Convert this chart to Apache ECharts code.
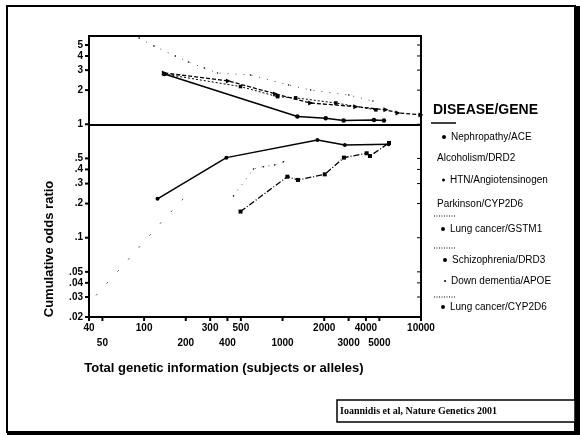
<!DOCTYPE html>
<html><head><meta charset="utf-8">
<script src="https://cdn.jsdelivr.net/npm/echarts@6/dist/echarts.min.js"></script>
<style>html,body{margin:0;padding:0;background:#fff;}#c{width:580px;height:435px;}</style>
</head><body><div id="c"></div>
<script>
// ---- data ----
const seriesNames = ['Nephropathy/ACE','Alcoholism/DRD2','HTN/Angiotensinogen','Parkinson/CYP2D6',
  'Lung cancer/GSTM1','Schizophrenia/DRD3','Down dementia/APOE','Lung cancer/CYP2D6'];
const nephropathyX = [140,1280,2050,2760,4570,5400];
const nephropathyY = [2.77,1.17,1.13,1.08,1.09,1.08];
const alcoholismX = [92,118,168,209,272,339,587,1106,1597,3013,4490];
const alcoholismY = [5.76,4.9,4.0,3.54,3.13,2.83,2.72,2.22,2.0,1.81,1.60];
const htnX = [140,406,891,1597,3387,5580,6820,10000];
const htnY = [2.83,2.41,1.85,1.54,1.43,1.34,1.26,1.21];
const parkinsonX = [140,497,920,1244,2426,4723];
const parkinsonY = [2.77,2.15,1.75,1.71,1.54,1.34];
const gstm1X = [125,393,1786,2818,5843];
const gstm1Y = [0.22,0.508,0.727,0.657,0.667];
const schizoX = [497,1083,1292,2017,2773,4050,4280,5875];
const schizoY = [0.170,0.345,0.323,0.362,0.508,0.555,0.525,0.684];
const downX = [45,74,134,198];
const downY = [0.031,0.061,0.138,0.230];
const cyp2d6X = [442,617,729,876,1018];
const cyp2d6Y = [0.233,0.404,0.423,0.438,0.468];
const xTickValues = [40,50,100,200,300,400,500,1000,2000,3000,4000,5000,10000];
const xTickLabels = ['40','50','100','200','300','400','500','1000','2000','3000','4000','5000','10000'];
const xTickRow = [0,1,0,1,0,1,0,1,0,1,0,1,0];
const yTickValues = [5,4,3,2,1,0.5,0.4,0.3,0.2,0.1,0.05,0.04,0.03,0.02];
const yTickLabels = ['5','4','3','2','1','.5','.4','.3','.2','.1','.05','.04','.03','.02'];
const referenceOR = 1;
const xMin = 40, xMax = 10000, yMin = 0.02, yMax = 6;
const xTitle = 'Total genetic information (subjects or alleles)';
const yTitle = 'Cumulative odds ratio';
const legendTitle = 'DISEASE/GENE';
const citation = 'Ioannidis et al, Nature Genetics 2001';

// ---- layout / style ----
const FONT = '"Liberation Sans", Arial, sans-serif';
const pair = (xs, ys) => xs.map((x, i) => [x, ys[i]]);
const legendY = [139,160,182,206,231,262,283,309];
const legendLeft = [442,431,442,431,441,443,444,441];
const legendIconSize = [4,0,3,0,4,4,2,4];

const styles = [
  {ls:{width:1.5,type:'solid'}, sym:'circle', ss:4.5},
  {ls:{width:1,type:[1,7],color:'#555'}, sym:'circle', ss:1.5},
  {ls:{width:1.3,type:[4,2]}, sym:'triangle', ss:5, rot:-90},
  {ls:{width:1,type:[2,2]}, sym:'rect', ss:3.5},
  {ls:{width:1.5,type:'solid'}, sym:'circle', ss:4},
  {ls:{width:1.3,type:[6,2,1,2]}, sym:'rect', ss:4},
  {ls:{width:1,type:[2,14],color:'#555'}, sym:'none', ss:2},
  {ls:{width:1,type:[1,6],color:'#555'}, sym:'circle', ss:1.5}
];
const dataSets = [pair(nephropathyX,nephropathyY), pair(alcoholismX,alcoholismY), pair(htnX,htnY),
  pair(parkinsonX,parkinsonY), pair(gstm1X,gstm1Y), pair(schizoX,schizoY), pair(downX,downY), pair(cyp2d6X,cyp2d6Y)];

const lineSeries = seriesNames.map((n, i) => {
  const s = styles[i];
  const o = {
    name: n, type: 'line', data: dataSets[i], z: 5,
    lineStyle: Object.assign({color:'#000'}, s.ls),
    symbol: s.sym, symbolSize: s.ss, symbolRotate: s.rot || 0, showSymbol: true,
    itemStyle: {color:'#000'}, silent: true
  };
  if (i === 0) {
    o.markLine = {silent:true, symbol:'none', label:{show:false},
      lineStyle:{color:'#000', width:2, type:'solid'}, data:[{yAxis: referenceOR}]};
  }
  return o;
});

const xTickSeries = {
  type:'custom', silent:true, z:10, clip:false,
  data: xTickValues.map(v => [v, yMin]),
  renderItem: (params, api) => {
    const i = params.dataIndex;
    const p = api.coord([api.value(0), api.value(1)]);
    return {type:'group', children:[
      {type:'line', shape:{x1:p[0], y1:p[1], x2:p[0], y2:p[1]+4}, style:{stroke:'#000', lineWidth:2}},
      {type:'text', x:p[0], y:p[1] + (xTickRow[i] ? 26 : 11),
        style:{text:xTickLabels[i], fill:'#000', font:'bold 10px ' + FONT, align:'center', verticalAlign:'middle'}}
    ]};
  }
};
const yTickSeries = {
  type:'custom', silent:true, z:10, clip:false,
  data: yTickValues.map(v => [xMin, v]),
  renderItem: (params, api) => {
    const i = params.dataIndex;
    const p = api.coord([api.value(0), api.value(1)]);
    const pr = api.coord([xMax, api.value(1)]);
    return {type:'group', children:[
      {type:'line', shape:{x1:p[0]-4, y1:p[1], x2:p[0], y2:p[1]}, style:{stroke:'#000', lineWidth:2}},
      {type:'line', shape:{x1:pr[0]-4, y1:pr[1], x2:pr[0], y2:pr[1]}, style:{stroke:'#000', lineWidth:1}},
      {type:'text', x:p[0]-6, y:p[1],
        style:{text:yTickLabels[i], fill:'#000', font:'bold 10px ' + FONT, align:'right', verticalAlign:'middle'}}
    ]};
  }
};

const legends = seriesNames.map((n, i) => ({
  data:[n], left: legendLeft[i], top: legendY[i] - 7, padding:0, orient:'vertical',
  icon:'circle', itemWidth: Math.max(legendIconSize[i],1), itemHeight: Math.max(legendIconSize[i],1),
  itemStyle: {color:'#000', opacity: legendIconSize[i] ? 1 : 0},
  selectedMode:false,
  textStyle:{fontSize:10, fontFamily:FONT, color:'#000'}
}));

const graphics = [
  {type:'rect', shape:{x:7, y:6, width:568, height:426}, style:{fill:'none', stroke:'#000', lineWidth:2}, silent:true},
  {type:'rect', shape:{x:575, y:6, width:5, height:429}, style:{fill:'#000'}, silent:true},
  {type:'rect', shape:{x:7, y:431, width:573, height:4}, style:{fill:'#000'}, silent:true},
  {type:'rect', shape:{x:337, y:400, width:238, height:22}, style:{fill:'#fff', stroke:'#000', lineWidth:1.5}, silent:true},
  {type:'text', x:340, y:411, style:{text:citation, font:'bold 10px "Liberation Serif", "Times New Roman", serif', fill:'#000', verticalAlign:'middle'}, silent:true},
  {type:'text', x:224, y:368, style:{text:xTitle, font:'bold 13px ' + FONT, fill:'#000', align:'center', verticalAlign:'middle'}, silent:true},
  {type:'text', x:49, y:249, rotation:Math.PI/2, style:{text:yTitle, font:'bold 13px ' + FONT, fill:'#000', align:'center', verticalAlign:'middle'}, silent:true},
  {type:'text', x:433, y:110, style:{text:legendTitle, font:'bold 14px ' + FONT, fill:'#000', verticalAlign:'middle'}, silent:true},
  {type:'line', shape:{x1:431, y1:123, x2:456, y2:123}, style:{stroke:'#000', lineWidth:1.5}, silent:true},
  {type:'line', shape:{x1:434, y1:216, x2:455, y2:216}, style:{stroke:'#000', lineWidth:1, lineDash:[1,1.5]}, silent:true},
  {type:'line', shape:{x1:434, y1:248, x2:455, y2:248}, style:{stroke:'#000', lineWidth:1, lineDash:[1,1.5]}, silent:true},
  {type:'line', shape:{x1:434, y1:297, x2:455, y2:297}, style:{stroke:'#000', lineWidth:1, lineDash:[1,1.5]}, silent:true}
];

const option = {
  animation:false,
  backgroundColor:'#fff',
  grid:{left:89, top:36, width:332, height:281, show:true, borderColor:'#000', borderWidth:2, backgroundColor:'transparent'},
  xAxis:{type:'log', logBase:10, min:xMin, max:xMax,
    axisLine:{show:true, lineStyle:{color:'#000', width:2}}, axisTick:{show:false}, axisLabel:{show:false}, splitLine:{show:false}},
  yAxis:{type:'log', logBase:10, min:yMin, max:yMax,
    axisLine:{show:true, lineStyle:{color:'#000', width:2}}, axisTick:{show:false}, axisLabel:{show:false}, splitLine:{show:false}},
  legend: legends,
  graphic: graphics,
  series: lineSeries.concat([xTickSeries, yTickSeries])
};
const chart = echarts.init(document.getElementById('c'), null, {renderer:'canvas'});
chart.setOption(option);
</script>
</body></html>
